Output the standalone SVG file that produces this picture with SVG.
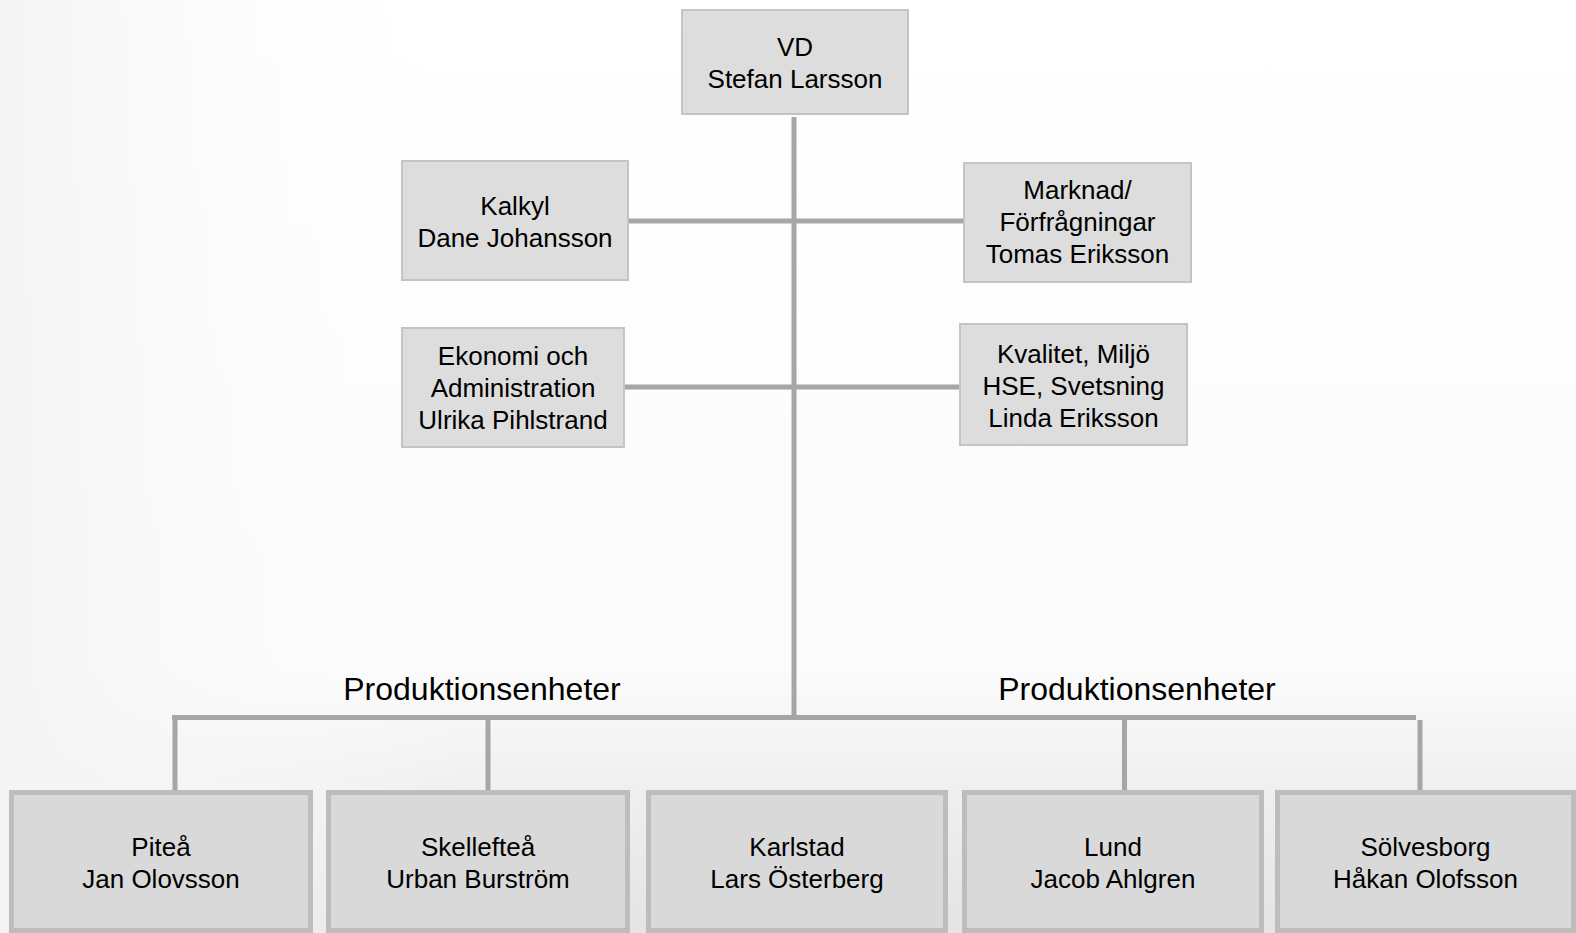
<svg xmlns="http://www.w3.org/2000/svg" width="1576" height="933" viewBox="0 0 1576 933">
<defs>
<linearGradient id="bg" x1="0" y1="0" x2="0" y2="1">
<stop offset="0" stop-color="#ffffff"/>
<stop offset="0.72" stop-color="#fbfbfb"/>
<stop offset="0.85" stop-color="#efefef"/>
<stop offset="1" stop-color="#e4e4e4"/>
</linearGradient>
<linearGradient id="bgl" x1="0" y1="0" x2="1" y2="0">
<stop offset="0" stop-color="#f4f4f4" stop-opacity="1"/>
<stop offset="0.3" stop-color="#ffffff" stop-opacity="0"/>
</linearGradient>
</defs>
<style>
.top{fill:#dddddd;stroke:#c4c4c4;stroke-width:2}
.bot{fill:#d9d9d9;stroke:#bdbdbd;stroke-width:5}
.t{font-family:"Liberation Sans",Arial,sans-serif;font-size:26px;fill:#000;text-anchor:middle}
.h{font-family:"Liberation Sans",Arial,sans-serif;font-size:32px;fill:#000;text-anchor:middle}
.c{stroke:#a6a6a6;stroke-width:5;fill:none}
</style>
<rect x="0" y="0" width="1576" height="933" fill="url(#bg)"/>
<rect x="0" y="0" width="1576" height="933" fill="url(#bgl)"/>
<g id="connectors">
<line class="c" x1="794" y1="117" x2="794" y2="720"/>
<line class="c" x1="629" y1="221" x2="963" y2="221"/>
<line class="c" x1="625" y1="387" x2="959" y2="387"/>
<line class="c" x1="172" y1="717.5" x2="1416" y2="717.5"/>
<line class="c" x1="175" y1="715" x2="175" y2="790"/>
<line class="c" x1="488" y1="715" x2="488" y2="790"/>
<line class="c" x1="1124.5" y1="715" x2="1124.5" y2="790"/>
<line class="c" x1="1420" y1="720" x2="1420" y2="790"/>
</g>
<g id="labels">
<text class="h" x="482" y="700">Produktionsenheter</text>
<text class="h" x="1137" y="700">Produktionsenheter</text>
</g>
<g id="vd">
<rect class="top" x="682" y="10" width="226" height="104"/>
<text class="t" x="795" y="56">VD</text>
<text class="t" x="795" y="88">Stefan Larsson</text>
</g>
<g id="kalkyl">
<rect class="top" x="402" y="161" width="226" height="119"/>
<text class="t" x="515" y="215">Kalkyl</text>
<text class="t" x="515" y="247">Dane Johansson</text>
</g>
<g id="marknad">
<rect class="top" x="964" y="163" width="227" height="119"/>
<text class="t" x="1077.5" y="199">Marknad/</text>
<text class="t" x="1077.5" y="231">Förfrågningar</text>
<text class="t" x="1077.5" y="263">Tomas Eriksson</text>
</g>
<g id="ekonomi">
<rect class="top" x="402" y="328" width="222" height="119"/>
<text class="t" x="513" y="365">Ekonomi och</text>
<text class="t" x="513" y="397">Administration</text>
<text class="t" x="513" y="429">Ulrika Pihlstrand</text>
</g>
<g id="kvalitet">
<rect class="top" x="960" y="324" width="227" height="121"/>
<text class="t" x="1073.5" y="363">Kvalitet, Miljö</text>
<text class="t" x="1073.5" y="395">HSE, Svetsning</text>
<text class="t" x="1073.5" y="427">Linda Eriksson</text>
</g>
<g id="pitea">
<rect class="bot" x="11.5" y="792.5" width="299" height="138"/>
<text class="t" x="161" y="856">Piteå</text>
<text class="t" x="161" y="888">Jan Olovsson</text>
</g>
<g id="skelleftea">
<rect class="bot" x="328.5" y="792.5" width="299" height="138"/>
<text class="t" x="478" y="856">Skellefteå</text>
<text class="t" x="478" y="888">Urban Burström</text>
</g>
<g id="karlstad">
<rect class="bot" x="648.5" y="792.5" width="297" height="138"/>
<text class="t" x="797" y="856">Karlstad</text>
<text class="t" x="797" y="888">Lars Österberg</text>
</g>
<g id="lund">
<rect class="bot" x="964.5" y="792.5" width="297" height="138"/>
<text class="t" x="1113" y="856">Lund</text>
<text class="t" x="1113" y="888">Jacob Ahlgren</text>
</g>
<g id="solvesborg">
<rect class="bot" x="1277.5" y="792.5" width="296" height="138"/>
<text class="t" x="1425.5" y="856">Sölvesborg</text>
<text class="t" x="1425.5" y="888">Håkan Olofsson</text>
</g>
</svg>
